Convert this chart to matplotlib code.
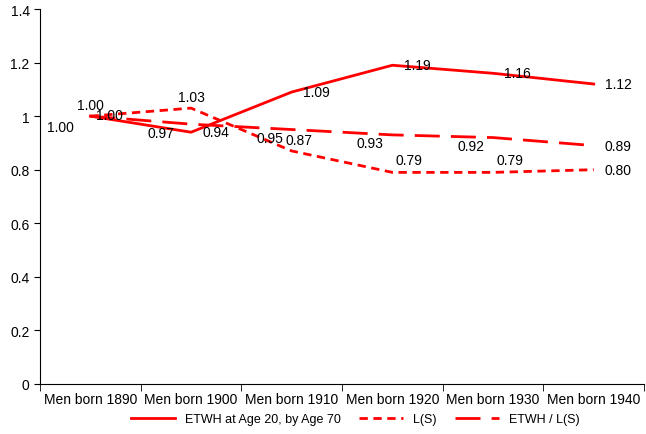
import matplotlib
matplotlib.use('Agg')
import matplotlib.pyplot as plt
import numpy as np

categories = ['Men born 1890', 'Men born 1900', 'Men born 1910', 'Men born 1920', 'Men born 1930', 'Men born 1940']
etwh = [1.00, 0.94, 1.09, 1.19, 1.16, 1.12]
ls = [1.00, 1.03, 0.87, 0.79, 0.79, 0.80]
ratio = [1.00, 0.97, 0.95, 0.93, 0.92, 0.89]

plt.rcParams['font.family'] = 'Liberation Sans'
fig = plt.figure(figsize=(6.46, 4.35), dpi=100)
ax = fig.add_axes([0.062, 0.115, 0.935, 0.862])

x = np.arange(len(categories))
red = '#ff0000'
l1, = ax.plot(x, etwh, color=red, lw=2, label='ETWH at Age 20, by Age 70')
l2, = ax.plot(x, ls, color=red, lw=2, dashes=(3, 2), label='L(S)')
l3, = ax.plot(x, ratio, color=red, lw=2, dashes=(9, 4), label='ETWH / L(S)')

for i, v in enumerate(etwh):
    if i == 0:
        ax.annotate(f'{v:.2f}', (i, v), xytext=(-12, -8), textcoords='offset points', ha='right', va='center', fontsize=10)
    else:
        ax.annotate(f'{v:.2f}', (i, v), xytext=(8, 0), textcoords='offset points', ha='left', va='center', fontsize=10)
for i, v in enumerate(ls):
    if i in (0, 1):
        ax.annotate(f'{v:.2f}', (i, v), xytext=(0, 8), textcoords='offset points', ha='center', va='center', fontsize=10)
    elif i == 5:
        ax.annotate(f'{v:.2f}', (i, v), xytext=(8, 0), textcoords='offset points', ha='left', va='center', fontsize=10)
    elif i == 2:
        ax.annotate(f'{v:.2f}', (i, v), xytext=(5, 8), textcoords='offset points', ha='center', va='center', fontsize=10)
    else:
        ax.annotate(f'{v:.2f}', (i, v), xytext=(12, 9), textcoords='offset points', ha='center', va='center', fontsize=10)
for i, v in enumerate(ratio):
    if i == 0:
        ax.annotate(f'{v:.2f}', (i, v), xytext=(4, 1), textcoords='offset points', ha='left', va='center', fontsize=10)
    elif i == 1:
        ax.annotate(f'{v:.2f}', (i, v), xytext=(-22, -6), textcoords='offset points', ha='center', va='center', fontsize=10)
    elif i == 5:
        ax.annotate(f'{v:.2f}', (i, v), xytext=(8, 0), textcoords='offset points', ha='left', va='center', fontsize=10)
    else:
        ax.annotate(f'{v:.2f}', (i, v), xytext=(-16, -6), textcoords='offset points', ha='center', va='center', fontsize=10)

ax.set_xlim(-0.5, len(categories) - 0.5)
ax.set_ylim(0, 1.4)
ax.set_yticks(np.arange(0, 1.41, 0.2))
ax.set_yticklabels(['0', '0.2', '0.4', '0.6', '0.8', '1', '1.2', '1.4'])
ax.set_xticks(x)
ax.set_xticklabels(categories)
ax.set_xticks(np.arange(-0.5, len(categories)), minor=True)
ax.tick_params(axis='x', which='major', length=0, pad=6)
ax.tick_params(axis='x', which='minor', length=5)
ax.tick_params(axis='y', direction='out', length=4)
ax.tick_params(labelsize=10)
ax.spines['top'].set_visible(False)
ax.spines['right'].set_visible(False)

fig.legend(handles=[l1, l2, l3], loc='lower center', bbox_to_anchor=(0.55, -0.005), ncol=3, frameon=False,
           fontsize=9, handlelength=3.5, columnspacing=1.5)
fig.savefig('out.png', dpi=100)
